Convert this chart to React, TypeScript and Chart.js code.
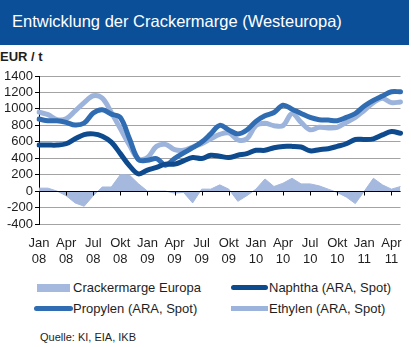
import React, { useEffect, useRef } from 'react';
import { Chart, registerables } from 'chart.js';

Chart.register(...registerables);

const categories = [
  'Jan 08', 'Feb 08', 'Mär 08', 'Apr 08', 'Mai 08', 'Jun 08', 'Jul 08', 'Aug 08', 'Sep 08', 'Okt 08', 'Nov 08', 'Dez 08',
  'Jan 09', 'Feb 09', 'Mär 09', 'Apr 09', 'Mai 09', 'Jun 09', 'Jul 09', 'Aug 09', 'Sep 09', 'Okt 09', 'Nov 09', 'Dez 09',
  'Jan 10', 'Feb 10', 'Mär 10', 'Apr 10', 'Mai 10', 'Jun 10', 'Jul 10', 'Aug 10', 'Sep 10', 'Okt 10', 'Nov 10', 'Dez 10',
  'Jan 11', 'Feb 11', 'Mär 11', 'Apr 11', 'Mai 11',
];

const crackermarge = [
  36, 36, 0, -56, -144, -184, -56, 50, 50, 200, 196, 90,
  0, 0, 0, -24, -16, -144, 24, 24, 76, 24, -124, -56,
  24, 148, 56, 96, 156, 88, 88, 64, 24, -16, -72, -152,
  0, 156, 76, 24, 56,
];

const naphtha = [
  560, 560, 560, 576, 636, 688, 696, 668, 596, 456, 310, 210,
  256, 288, 328, 328, 368, 408, 396, 436, 424, 408, 436, 456,
  496, 496, 528, 544, 544, 536, 490, 504, 516, 544, 576, 628,
  628, 636, 684, 724, 704,
];

const propylen = [
  876, 856, 856, 836, 804, 828, 950, 990, 936, 896, 640, 384,
  376, 396, 316, 396, 464, 528, 596, 696, 800, 744, 696, 744,
  848, 916, 956, 1044, 996, 944, 896, 868, 864, 856, 896, 944,
  1036, 1104, 1156, 1208, 1208,
];

const ethylen = [
  960, 930, 870, 880, 976, 1076, 1160, 1130, 956, 760, 560, 390,
  408, 544, 568, 504, 496, 536, 576, 636, 690, 708, 624, 636,
  796, 824, 796, 796, 944, 836, 746, 776, 768, 776, 836, 896,
  984, 1076, 1128, 1076, 1084,
];

const seriesNames = ['Crackermarge Europa', 'Naphtha (ARA, Spot)', 'Propylen (ARA, Spot)', 'Ethylen (ARA, Spot)'];
const titleText = 'Entwicklung der Crackermarge (Westeuropa)';
const unitText = 'EUR / t';
const sourceText = 'Quelle: KI, EIA, IKB';

const FONT = '"Liberation Sans", Arial, sans-serif';
const C_AREA = '#a5b8de';
const C_NAPHTHA = '#0e4a8e';
const C_PROPYLEN = '#2f6cb2';
const C_ETHYLEN = '#9cb4db';
const TEXT = '#1e1e1e';

const zeroLine = {
  id: 'zeroLine',
  afterDatasetsDraw(chart: any) {
    const { ctx, chartArea, scales } = chart;
    const y = Math.round(scales.y.getPixelForValue(0)) + 0.5;
    ctx.save();
    ctx.strokeStyle = '#000';
    ctx.lineWidth = 1;
    ctx.beginPath();
    ctx.moveTo(chartArea.left, y);
    ctx.lineTo(chartArea.right, y);
    for (let i = 3; i < categories.length; i += 3) {
      const x = Math.round(scales.x.getPixelForValue(i)) + 0.5;
      ctx.moveTo(x, y);
      ctx.lineTo(x, y + 4);
    }
    ctx.stroke();
    ctx.restore();
  },
};

export default function App() {
  const ref = useRef<HTMLCanvasElement | null>(null);

  useEffect(() => {
    if (!ref.current) return;
    const lineDs = (label: string, data: number[], color: string) => ({
      type: 'line' as const,
      label,
      data,
      borderColor: color,
      backgroundColor: color,
      borderWidth: 5,
      pointRadius: 0,
      tension: 0.35,
      borderJoinStyle: 'round' as const,
      borderCapStyle: 'round' as const,
      fill: false,
    });
    const chart = new Chart(ref.current, {
      type: 'line',
      data: {
        labels: categories,
        datasets: [
          {
            label: seriesNames[0],
            data: crackermarge,
            borderColor: C_AREA,
            backgroundColor: C_AREA,
            borderWidth: 1,
            pointRadius: 0,
            tension: 0,
            fill: 'origin',
          },
          lineDs(seriesNames[1], naphtha, C_NAPHTHA),
          lineDs(seriesNames[2], propylen, C_PROPYLEN),
          lineDs(seriesNames[3], ethylen, C_ETHYLEN),
        ],
      },
      options: {
        animation: false,
        responsive: false,
        devicePixelRatio: 1,
        layout: { padding: { top: 16, right: 8, left: 0, bottom: 0 } },
        plugins: {
          legend: { display: false },
          tooltip: { enabled: false },
          title: { display: false },
        },
        scales: {
          x: {
            type: 'category',
            offset: false,
            grid: { display: false, drawTicks: false },
            border: { display: false },
            ticks: {
              autoSkip: false,
              maxRotation: 0,
              minRotation: 0,
              padding: 10.5,
              color: TEXT,
              font: { family: FONT, size: 13, lineHeight: 1.3 },
              callback: (_v: any, i: number) => (i % 3 === 0 ? categories[i].split(' ') : ''),
            },
            afterFit: (s: any) => {
              s.height = 51;
            },
          },
          y: {
            min: -400,
            max: 1400,
            grid: { color: '#a3a3a3', lineWidth: 1, tickColor: '#000', tickLength: 4, drawTicks: true },
            border: { display: true, color: '#000', width: 1 },
            ticks: {
              stepSize: 200,
              autoSkip: false,
              padding: 2,
              color: TEXT,
              font: { family: FONT, size: 13 },
              callback: (v: any) => String(v),
            },
            afterFit: (s: any) => {
              s.width = 39;
            },
          },
        },
      },
      plugins: [zeroLine],
    });
    return () => chart.destroy();
  }, []);

  const txt = (extra: React.CSSProperties): React.CSSProperties => ({
    position: 'absolute',
    fontFamily: FONT,
    fontSize: 13,
    lineHeight: '16px',
    color: TEXT,
    whiteSpace: 'nowrap',
    ...extra,
  });

  return (
    <div style={{ position: 'absolute', left: 0, top: 0, width: 411, height: 347, background: '#fff', overflow: 'hidden' }}>
      <div style={{ position: 'absolute', left: 0, top: 0, width: 409, height: 45, background: '#0b4f99' }} />
      <div style={txt({ left: 12, top: 11, fontSize: 16.5, lineHeight: '20px', color: '#fff' })}>{titleText}</div>
      <div style={txt({ left: 0, top: 48.5, fontWeight: 'bold' })}>{unitText}</div>
      <canvas ref={ref} width={411} height={215} style={{ position: 'absolute', left: 0, top: 60, width: 411, height: 215 }} />
      <div style={{ position: 'absolute', left: 37, top: 284, width: 33, height: 8, background: C_AREA }} />
      <div style={txt({ left: 73, top: 280 })}>{seriesNames[0]}</div>
      <div style={{ position: 'absolute', left: 231, top: 285, width: 37, height: 5, borderRadius: 2.5, background: C_NAPHTHA }} />
      <div style={txt({ left: 269, top: 280 })}>{seriesNames[1]}</div>
      <div style={{ position: 'absolute', left: 34, top: 306, width: 39, height: 5, borderRadius: 2.5, background: C_PROPYLEN }} />
      <div style={txt({ left: 73, top: 300.5 })}>{seriesNames[2]}</div>
      <div style={{ position: 'absolute', left: 231, top: 306, width: 37, height: 5, background: C_ETHYLEN }} />
      <div style={txt({ left: 269, top: 300.5 })}>{seriesNames[3]}</div>
      <div style={txt({ left: 40, top: 331, fontSize: 11, lineHeight: '13px' })}>{sourceText}</div>
    </div>
  );
}
